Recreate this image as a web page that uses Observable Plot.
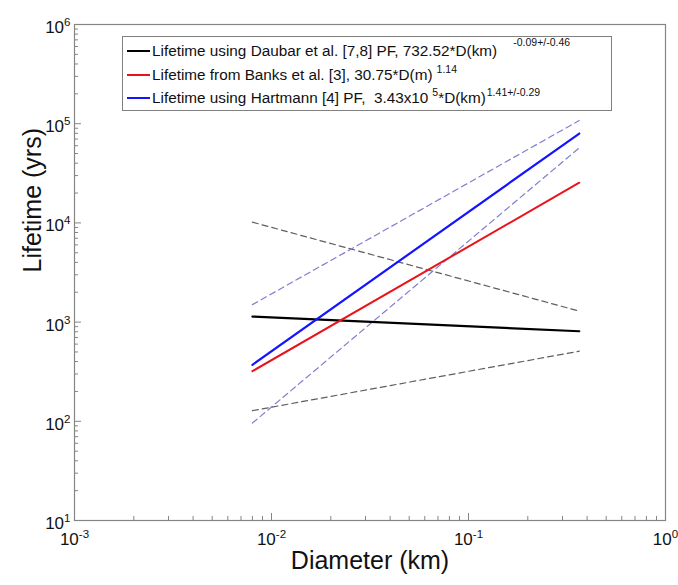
<!DOCTYPE html>
<html><head><meta charset="utf-8">
<script src="https://cdn.jsdelivr.net/npm/d3@7"></script>
<script src="https://cdn.jsdelivr.net/npm/@observablehq/plot@0.6"></script>
<style>
body{margin:0;background:#fff;}
#wrap{position:relative;width:678px;height:585px;font-family:"Liberation Sans",Arial,Helvetica,sans-serif;}
#legend{position:absolute;left:122px;top:36px;width:490px;height:75px;border:1px solid #808080;background:#fff;box-sizing:border-box;font-size:15.3px;color:#111;}
.row{position:absolute;left:0;height:20px;line-height:20px;white-space:pre;display:flex;align-items:center;}
.sw{display:inline-block;width:23px;height:2px;margin-left:4px;margin-right:2px;}
.sup{font-size:10.5px;position:relative;top:-6px;}
</style></head>
<body>
<div id="wrap"></div>
<script>
// Data (Diameter in km, Lifetime in years)
const diameterKm = [0.008, 0.365];
const daubar = [1138, 809];
const daubarUpper = [10170, 1290];
const daubarLower = [128, 509];
const banks = [320, 25400];
const hartmann = [371, 79600];
const hartmannUpper = [1500, 107700];
const hartmannLower = [96, 57100];

const majorX = [1e-3, 1e-2, 1e-1, 1];
const majorY = [1e1, 1e2, 1e3, 1e4, 1e5, 1e6];
const minorMult = [2, 3, 4, 5, 6, 7, 8, 9];

const legendRows = [
  {color: "#000000", text: "Lifetime using Daubar et al. [7,8] PF, 732.52*D(km)", sup: "-0.09+/-0.46"},
  {color: "#e8141a", text: "Lifetime from Banks et al. [3], 30.75*D(m)", sup: "1.14"},
  {color: "#1414ff", text: "Lifetime using Hartmann [4] PF,  3.43x10", sup: "5", text2: "*D(km)", sup2: "1.41+/-0.29"}
];

const W = 678, H = 585, mL = 74, mR = 13, mT = 24, mB = 65;
const fW = W - mL - mR, fH = H - mT - mB;
const axisColor = "#858585";

function series(name, vals) { return diameterKm.map((d, i) => ({name, d, v: vals[i]})); }
const mainBlack = series("daubar", daubar);
const mainRed = series("banks", banks);
const mainBlue = series("hartmann", hartmann);
const grayBounds = [...series("dU", daubarUpper), ...series("dL", daubarLower)];
const blueBounds = [...series("hU", hartmannUpper), ...series("hL", hartmannLower)];

const minorX = majorX.slice(0, -1).flatMap(m => minorMult.map(k => m * k));
const minorY = majorY.slice(0, -1).flatMap(m => minorMult.map(k => m * k));
const fmt = d => "10^" + Math.round(Math.log10(d));

const chart = Plot.plot({
  width: W, height: H,
  marginLeft: mL, marginRight: mR, marginTop: mT, marginBottom: mB,
  style: {fontFamily: '"Liberation Sans", Arial, Helvetica, sans-serif', background: "#fff", color: "#111"},
  x: {type: "log", domain: [1e-3, 1]},
  y: {type: "log", domain: [1e1, 1e6]},
  marks: [
    Plot.tickX(minorX, {x: d => d, insetTop: fH - 4, stroke: axisColor}),
    Plot.tickX(majorX, {x: d => d, insetTop: fH - 7, stroke: axisColor}),
    Plot.tickY(minorY, {y: d => d, insetRight: fW - 4, stroke: axisColor}),
    Plot.tickY(majorY, {y: d => d, insetRight: fW - 7, stroke: axisColor}),
    Plot.frame({stroke: axisColor, strokeWidth: 1.2}),
    Plot.axisX({ticks: majorX, tickSize: 0, tickPadding: 12, tickFormat: fmt, fontSize: 17, label: null}),
    Plot.axisY({ticks: majorY, tickSize: 0, tickPadding: 4, tickFormat: fmt, fontSize: 17, label: null, dy: 3}),
    Plot.line(grayBounds, {x: "d", y: "v", z: "name", stroke: "#5f5f5f", strokeWidth: 1.2, strokeDasharray: "6,4"}),
    Plot.line(blueBounds, {x: "d", y: "v", z: "name", stroke: "#7f7fd0", strokeWidth: 1.2, strokeDasharray: "6,4"}),
    Plot.line(mainBlack, {x: "d", y: "v", stroke: "#000", strokeWidth: 2.2}),
    Plot.line(mainRed, {x: "d", y: "v", stroke: "#e8141a", strokeWidth: 2}),
    Plot.line(mainBlue, {x: "d", y: "v", stroke: "#1414ff", strokeWidth: 2.2}),
    Plot.text(["Lifetime (yrs)"], {frameAnchor: "left", rotate: -90, dx: -42, fontSize: 25, fill: "#111"}),
    Plot.text(["Diameter (km)"], {frameAnchor: "bottom", dy: 48, fontSize: 25, fill: "#111"})
  ]
});

// superscript exponents in tick labels
d3.select(chart).selectAll('g[aria-label$="tick label"] text').each(function() {
  const t = this.textContent;
  const m = /^10\^(-?\d+)$/.exec(t);
  if (m) this.innerHTML = `10<tspan dy="-0.6em" font-size="0.68em">${m[1]}</tspan>`;
});

const wrap = document.getElementById("wrap");
wrap.appendChild(chart);

const legend = document.createElement("div");
legend.id = "legend";
const tops = [4, 28, 51];
legendRows.forEach((r, i) => {
  const row = document.createElement("div");
  row.className = "row";
  row.style.top = tops[i] + "px";
  let html = `<span class="sw" style="background:${r.color}"></span><span>${r.text}</span>`;
  if (i === 0) html += `<span class="sup" style="top:-9px;margin-left:16px">${r.sup}</span>`;
  else html += `<span class="sup" style="margin-left:4px">${r.sup}</span>`;
  if (r.text2) html += `<span>${r.text2}</span><span class="sup" style="margin-left:1px">${r.sup2}</span>`;
  row.innerHTML = html;
  legend.appendChild(row);
});
wrap.appendChild(legend);
</script>
</body></html>
